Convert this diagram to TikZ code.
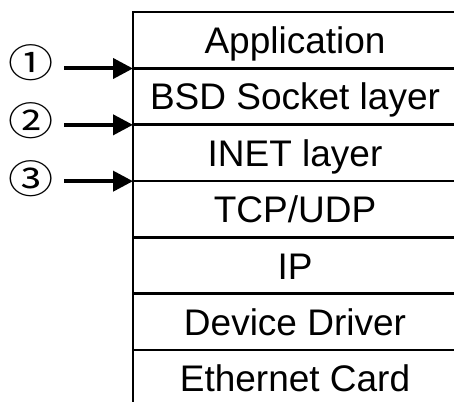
\documentclass[tikz,border=0pt]{standalone}
\usepackage{fontspec}
\setmainfont{Liberation Sans}
\newfontfamily\circfont{Noto Sans CJK SC}
\usetikzlibrary{arrows.meta}
\begin{document}
\begin{tikzpicture}[x=1pt,y=-1pt,
  layer/.style={draw,line width=2.5pt,minimum width=324pt,minimum height=56.33pt,
    inner sep=0pt,outer sep=0pt,text height=27pt,text depth=0pt,
    font=\fontsize{37}{44}\selectfont},
  num/.style={inner sep=0pt,font=\circfont\fontsize{41}{44}\selectfont},
  arr/.style={line width=4pt,-{Triangle[length=20pt,width=20pt]}}]
\useasboundingbox (0,0) rectangle (454,401);
\clip (0,0) rectangle (454,401);
\fill[white] (0,0) rectangle (454,401);
\node[layer] (l1) at (295,40.17) {Application};
\node[layer] (l2) at (295,96.5) {BSD Socket layer};
\node[layer] (l3) at (295,152.83) {INET layer};
\node[layer] (l4) at (295,209.17) {TCP/UDP};
\node[layer] (l5) at (295,265.5) {IP};
\node[layer] (l6) at (295,321.83) {Device Driver};
\node[layer] (l7) at (295,378.17) {Ethernet Card};
\node[num] (n1) at (31,62.5) {\scalebox{1.1}[0.95]{①}};
\node[num] (n2) at (31,120.5) {\scalebox{1.1}[0.95]{②}};
\node[num] (n3) at (31,178.5) {\scalebox{1.1}[0.95]{③}};
\coordinate (a1) at (64,68.5);
\coordinate (a2) at (64,124.83);
\coordinate (a3) at (64,181.17);
\draw[arr] (a1) -- (a1 -| l1.west);
\draw[arr] (a2) -- (a2 -| l2.west);
\draw[arr] (a3) -- (a3 -| l3.west);
\end{tikzpicture}
\end{document}
